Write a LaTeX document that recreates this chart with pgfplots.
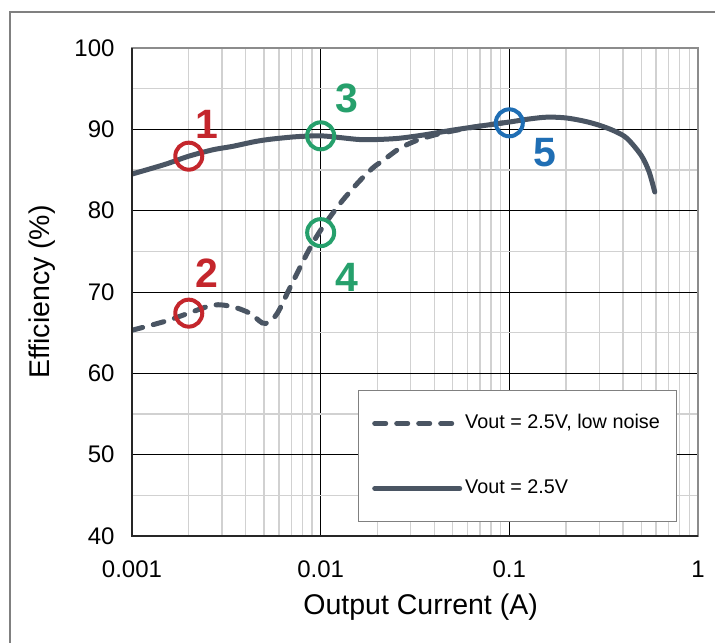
\documentclass[border=0pt]{standalone}
\usepackage{pgfplots}
\pgfplotsset{compat=1.18}
\usepackage{fontspec}
\setmainfont{Liberation Sans}
\definecolor{linec}{RGB}{74,85,99}
\definecolor{redc}{RGB}{196,38,44}
\definecolor{greenc}{RGB}{38,160,108}
\definecolor{bluec}{RGB}{31,110,180}

\begin{document}
\begin{tikzpicture}
\useasboundingbox (-132bp,-107bp) rectangle (583bp,536bp);
\draw[black!50, line width=1.3bp] (-122bp,-200bp) rectangle (700bp,524bp);
\begin{axis}[
  at={(0,0)}, anchor=south west,
  scale only axis, width=566bp, height=488bp,
  xmode=log, xmin=0.001, xmax=1, ymin=40, ymax=100,
  xtick={0.001,0.01,0.1,1}, xticklabels={0.001,0.01,0.1,1},
  minor xtick={0.002,0.003,0.004,0.005,0.006,0.007,0.008,0.009,
               0.02,0.03,0.04,0.05,0.06,0.07,0.08,0.09,
               0.2,0.3,0.4,0.5,0.6,0.7,0.8,0.9},
  ytick={40,50,...,100}, minor ytick={45,55,...,95},
  grid=both,
  major grid style={black, line width=0.9bp},
  minor grid style={black!18, line width=1.4bp},
  major tick length=0pt, minor tick length=0pt,
  axis line style={draw=black!45, line width=2.6bp},
  /pgf/number format/assume math mode=true,
  tick label style={font=\fontsize{24bp}{28bp}\selectfont},
  xticklabel style={yshift=-21bp},
  yticklabel style={xshift=-14bp},
  xlabel={Output Current (A)},
  ylabel={Efficiency (\%)},
  label style={font=\fontsize{28.5bp}{33bp}\selectfont},
  xlabel style={at={(axis description cs:0.51,-0.145)}, anchor=center},
  ylabel style={at={(axis description cs:-0.159,0.5)}, anchor=center},
  legend style={at={(axis description cs:0.399,0.299)}, anchor=north west,
    draw=black!50, line width=0.8bp, inner xsep=14bp, inner ysep=21bp,
    /tikz/row sep=41bp, font=\fontsize{19.8bp}{23bp}\selectfont,
    nodes={inner xsep=3bp, inner ysep=3bp, text height=14bp, text depth=4bp}},
  legend cell align=left,
  legend image code/.code={\draw[#1] (0bp,0bp) -- (85bp,0bp);},
  after end axis/.code={
    \draw[black!85, line width=2.4bp] (rel axis cs:0,1) -- (rel axis cs:0,0) -- (rel axis cs:1,0);
  },
]
% low noise mode
\addplot[linec, line width=5bp, line cap=round, dash pattern=on 11bp off 11bp, smooth, tension=0.5]
  coordinates {
  (0.001,65.3) (0.0015,66.4) (0.002,67.4) (0.0027,68.4) (0.0034,68.2)
  (0.0042,67.4) (0.0049,66.2) (0.0053,66.3) (0.0059,67.4) (0.0069,70.6)
  (0.0085,74.8) (0.01,77.6) (0.0127,80.9) (0.016,83.6) (0.019,85.3)
  (0.0215,86.2) (0.026,87.6) (0.032,88.6) (0.04,89.3) (0.05,89.8)
  (0.07,90.4) (0.1,90.9)
  };
\addlegendentry{Vout = 2.5V, low noise}
% normal mode
\addplot[linec, line width=5bp, line cap=round, smooth, tension=0.5]
  coordinates {
  (0.001,84.5) (0.0015,85.7) (0.002,86.7) (0.0027,87.5) (0.0034,87.9)
  (0.0045,88.5) (0.0055,88.8) (0.0075,89.1) (0.01,89.2) (0.0125,89.0)
  (0.016,88.75) (0.02,88.75) (0.026,88.9) (0.035,89.3) (0.05,89.9)
  (0.07,90.4) (0.1,90.9) (0.13,91.3) (0.16,91.5) (0.2,91.4)
  (0.25,91.0) (0.3,90.5) (0.36,89.8) (0.42,88.9) (0.5,86.8)
  (0.55,84.8) (0.59,82.3)
  };
\addlegendentry{Vout = 2.5V}
% markers
\addplot[redc, only marks, mark=o, mark size=13.5bp, line width=4bp, forget plot]
  coordinates {(0.002,86.7) (0.002,67.4)};
\addplot[greenc, only marks, mark=o, mark size=13.5bp, line width=4bp, forget plot]
  coordinates {(0.01,89.2) (0.01,77.3)};
\addplot[bluec, only marks, mark=o, mark size=13.5bp, line width=4bp, forget plot]
  coordinates {(0.1,90.8)};
\node[text=redc, font=\fontsize{41bp}{41bp}\selectfont\bfseries] at (axis cs:0.0025,90.6) {1};
\node[text=redc, font=\fontsize{41bp}{41bp}\selectfont\bfseries] at (axis cs:0.0025,72.3) {2};
\node[text=greenc, font=\fontsize{41bp}{41bp}\selectfont\bfseries] at (axis cs:0.0138,93.8) {3};
\node[text=greenc, font=\fontsize{41bp}{41bp}\selectfont\bfseries] at (axis cs:0.0138,71.8) {4};
\node[text=bluec, font=\fontsize{41bp}{41bp}\selectfont\bfseries] at (axis cs:0.155,87.2) {5};
\end{axis}
\end{tikzpicture}
\end{document}
